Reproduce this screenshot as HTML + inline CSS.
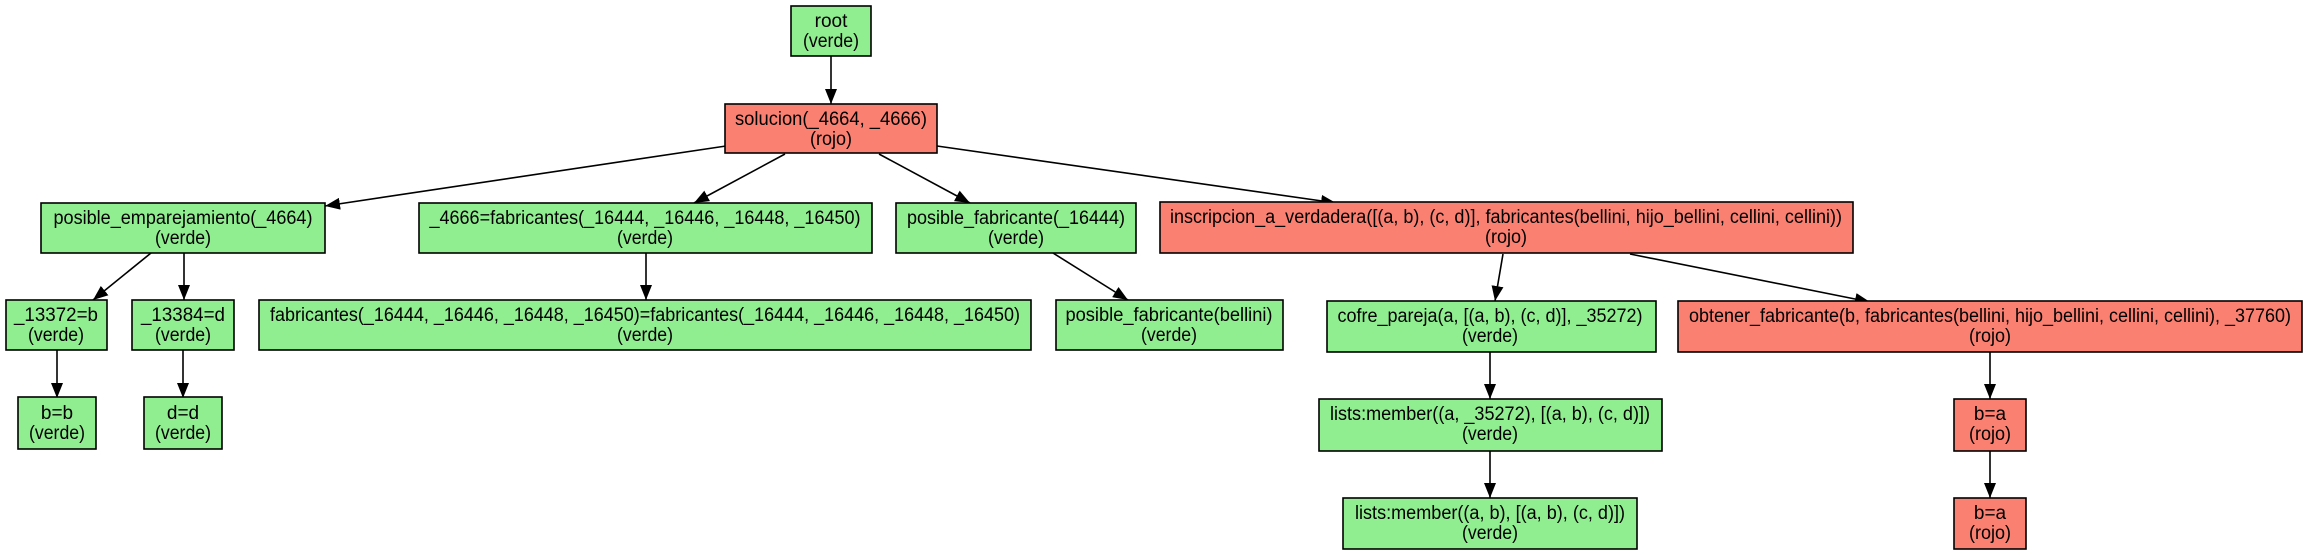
<!DOCTYPE html>
<html><head><meta charset="utf-8"><style>
html,body{margin:0;padding:0;background:#fff;}
svg{display:block;}
text{font-family:"Liberation Sans",sans-serif;font-size:19px;fill:#000;}
</style></head><body>
<svg width="2307" height="555" viewBox="0 0 2307 555" xmlns="http://www.w3.org/2000/svg">
<defs>
<marker id="a" markerUnits="userSpaceOnUse" markerWidth="16" markerHeight="12" refX="15" refY="6" orient="auto">
<path d="M0,0 L15,6 L0,12 z" fill="#000"/>
</marker>
</defs>
<g stroke="#000" stroke-width="1.6" fill="none" marker-end="url(#a)">
<line x1="831" y1="56" x2="831" y2="104"/>
<line x1="726" y1="146" x2="325" y2="206"/>
<line x1="785" y1="154" x2="694" y2="203"/>
<line x1="879" y1="154" x2="970" y2="203"/>
<line x1="937" y1="146" x2="1336" y2="203"/>
<line x1="151" y1="253" x2="93" y2="300"/>
<line x1="184" y1="253" x2="184" y2="300"/>
<line x1="646" y1="253" x2="646" y2="300"/>
<line x1="1053" y1="253" x2="1128" y2="300"/>
<line x1="1503" y1="254" x2="1495" y2="301"/>
<line x1="1630" y1="254" x2="1870" y2="302"/>
<line x1="57" y1="350" x2="57" y2="398"/>
<line x1="183" y1="350" x2="183" y2="398"/>
<line x1="1490" y1="352" x2="1490" y2="399"/>
<line x1="1490" y1="451" x2="1490" y2="498"/>
<line x1="1990" y1="352" x2="1990" y2="399"/>
<line x1="1990" y1="451" x2="1990" y2="498"/>
</g>
<g stroke="#000" stroke-width="1.6">
<rect x="791" y="6" width="80" height="50" fill="#90ee90"/>
<rect x="725" y="104" width="212" height="49" fill="#fa8072"/>
<rect x="41" y="203" width="284" height="50" fill="#90ee90"/>
<rect x="419" y="203" width="453" height="50" fill="#90ee90"/>
<rect x="896" y="203" width="240" height="50" fill="#90ee90"/>
<rect x="1160" y="202" width="693" height="51" fill="#fa8072"/>
<rect x="6" y="300" width="101" height="50" fill="#90ee90"/>
<rect x="132" y="300" width="102" height="50" fill="#90ee90"/>
<rect x="259" y="300" width="772" height="50" fill="#90ee90"/>
<rect x="1056" y="300" width="227" height="50" fill="#90ee90"/>
<rect x="1327" y="301" width="329" height="51" fill="#90ee90"/>
<rect x="1678" y="301" width="624" height="51" fill="#fa8072"/>
<rect x="18" y="397" width="78" height="52" fill="#90ee90"/>
<rect x="144" y="397" width="78" height="52" fill="#90ee90"/>
<rect x="1319" y="399" width="343" height="52" fill="#90ee90"/>
<rect x="1954" y="399" width="72" height="52" fill="#fa8072"/>
<rect x="1343" y="498" width="294" height="51" fill="#90ee90"/>
<rect x="1954" y="498" width="72" height="51" fill="#fa8072"/>
</g>
<g text-anchor="middle">
<text x="831" y="27">root</text>
<text x="831" y="47" textLength="56" lengthAdjust="spacingAndGlyphs">(verde)</text>
<text x="831" y="125" textLength="192" lengthAdjust="spacingAndGlyphs">solucion(_4664, _4666)</text>
<text x="831" y="145" textLength="42" lengthAdjust="spacingAndGlyphs">(rojo)</text>

<text x="183" y="224" textLength="259" lengthAdjust="spacingAndGlyphs">posible_emparejamiento(_4664)</text>
<text x="183" y="244" textLength="56" lengthAdjust="spacingAndGlyphs">(verde)</text>
<text x="645" y="224" textLength="431" lengthAdjust="spacingAndGlyphs">_4666=fabricantes(_16444, _16446, _16448, _16450)</text>
<text x="645" y="244" textLength="56" lengthAdjust="spacingAndGlyphs">(verde)</text>
<text x="1016" y="224" textLength="218" lengthAdjust="spacingAndGlyphs">posible_fabricante(_16444)</text>
<text x="1016" y="244" textLength="56" lengthAdjust="spacingAndGlyphs">(verde)</text>
<text x="1506" y="223" textLength="672" lengthAdjust="spacingAndGlyphs">inscripcion_a_verdadera([(a, b), (c, d)], fabricantes(bellini, hijo_bellini, cellini, cellini))</text>
<text x="1506" y="243" textLength="42" lengthAdjust="spacingAndGlyphs">(rojo)</text>

<text x="56" y="321" textLength="84" lengthAdjust="spacingAndGlyphs">_13372=b</text>
<text x="56" y="341" textLength="56" lengthAdjust="spacingAndGlyphs">(verde)</text>
<text x="183" y="321" textLength="84" lengthAdjust="spacingAndGlyphs">_13384=d</text>
<text x="183" y="341" textLength="56" lengthAdjust="spacingAndGlyphs">(verde)</text>
<text x="645" y="321" textLength="750" lengthAdjust="spacingAndGlyphs">fabricantes(_16444, _16446, _16448, _16450)=fabricantes(_16444, _16446, _16448, _16450)</text>
<text x="645" y="341" textLength="56" lengthAdjust="spacingAndGlyphs">(verde)</text>
<text x="1169" y="321" textLength="207" lengthAdjust="spacingAndGlyphs">posible_fabricante(bellini)</text>
<text x="1169" y="341" textLength="56" lengthAdjust="spacingAndGlyphs">(verde)</text>
<text x="1490" y="322" textLength="305" lengthAdjust="spacingAndGlyphs">cofre_pareja(a, [(a, b), (c, d)], _35272)</text>
<text x="1490" y="342" textLength="56" lengthAdjust="spacingAndGlyphs">(verde)</text>
<text x="1990" y="322" textLength="602" lengthAdjust="spacingAndGlyphs">obtener_fabricante(b, fabricantes(bellini, hijo_bellini, cellini, cellini), _37760)</text>
<text x="1990" y="342" textLength="42" lengthAdjust="spacingAndGlyphs">(rojo)</text>

<text x="57" y="419">b=b</text>
<text x="57" y="439" textLength="56" lengthAdjust="spacingAndGlyphs">(verde)</text>
<text x="183" y="419">d=d</text>
<text x="183" y="439" textLength="56" lengthAdjust="spacingAndGlyphs">(verde)</text>
<text x="1490" y="420" textLength="320" lengthAdjust="spacingAndGlyphs">lists:member((a, _35272), [(a, b), (c, d)])</text>
<text x="1490" y="440" textLength="56" lengthAdjust="spacingAndGlyphs">(verde)</text>
<text x="1990" y="420">b=a</text>
<text x="1990" y="440" textLength="42" lengthAdjust="spacingAndGlyphs">(rojo)</text>

<text x="1490" y="519" textLength="270" lengthAdjust="spacingAndGlyphs">lists:member((a, b), [(a, b), (c, d)])</text>
<text x="1490" y="539" textLength="56" lengthAdjust="spacingAndGlyphs">(verde)</text>
<text x="1990" y="519">b=a</text>
<text x="1990" y="539" textLength="42" lengthAdjust="spacingAndGlyphs">(rojo)</text>
</g>
</svg>
</body></html>
